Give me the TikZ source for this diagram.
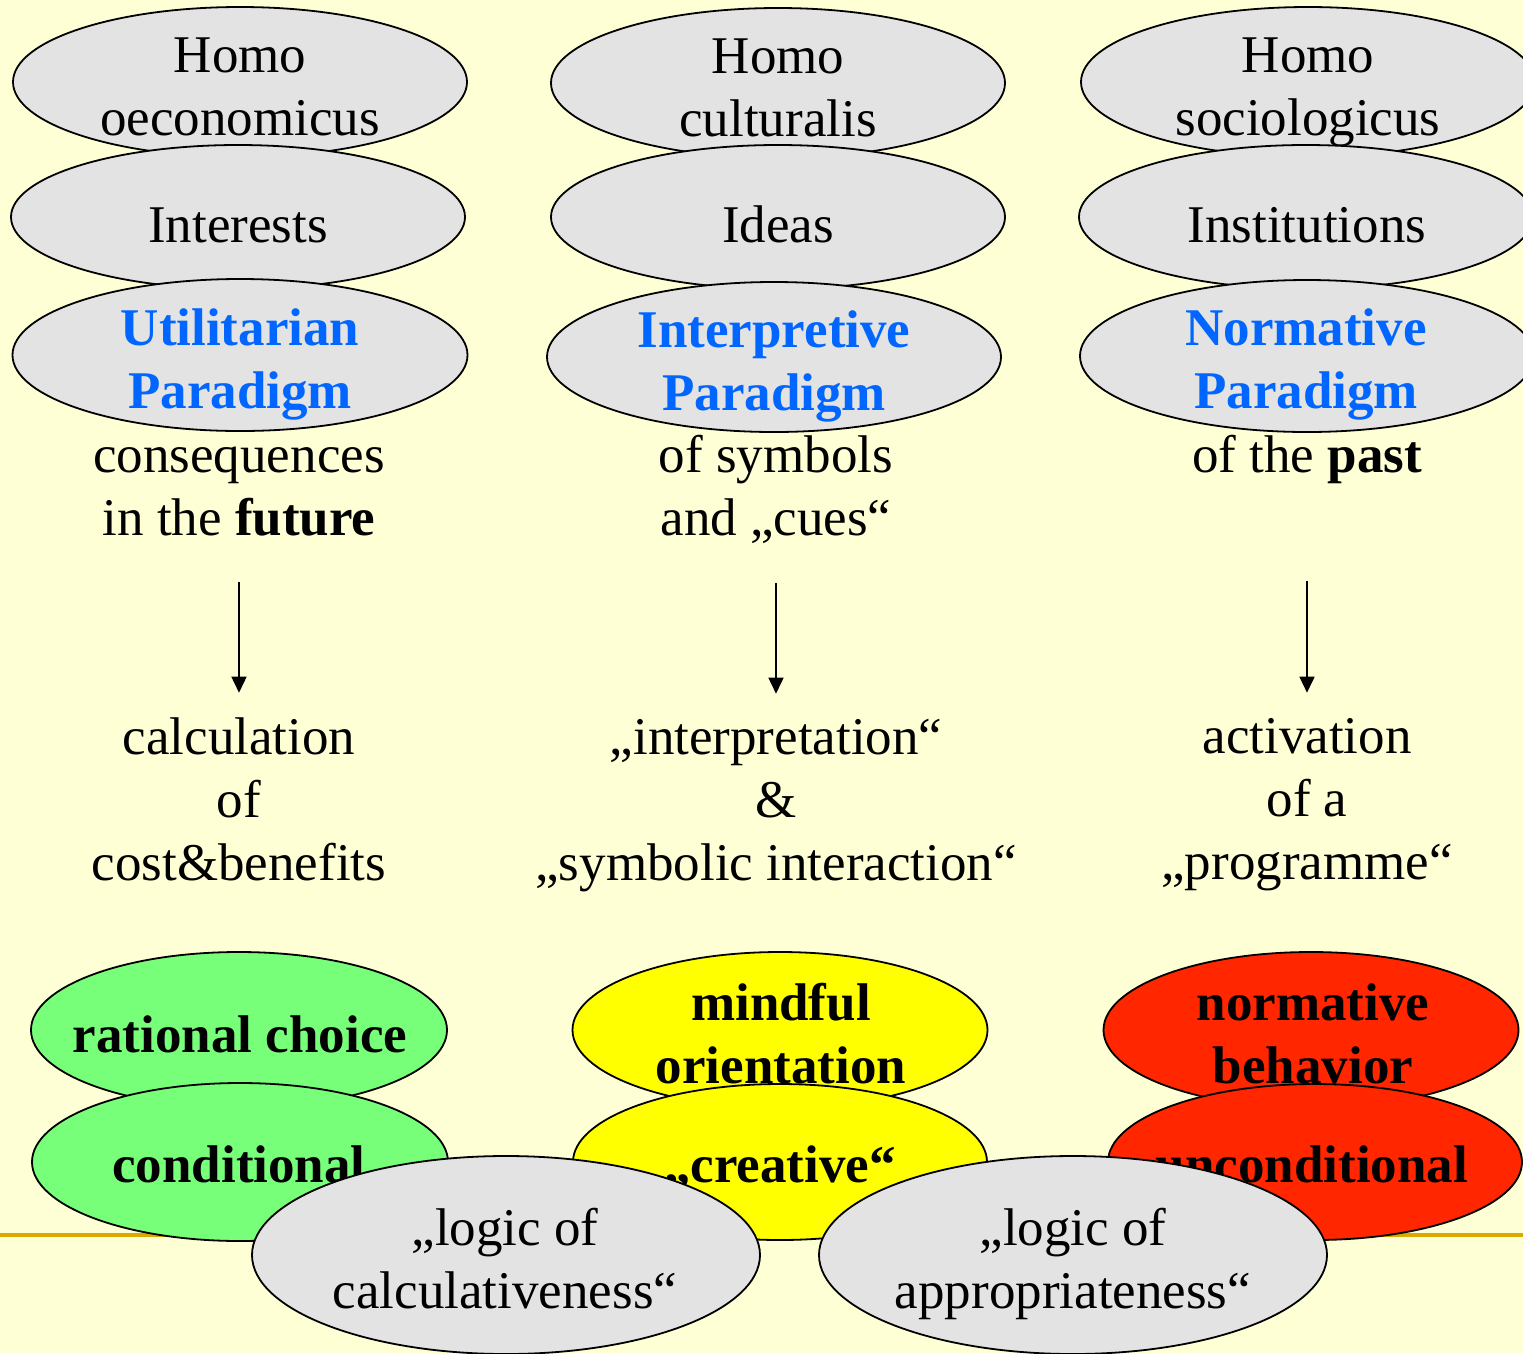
\documentclass[tikz,border=0pt]{standalone}
\usepackage{fontspec}
\setmainfont{Liberation Serif}
\usetikzlibrary{shapes.geometric,arrows.meta}
\definecolor{bgyellow}{RGB}{255,255,214}
\definecolor{ellgray}{RGB}{227,227,227}
\definecolor{pgreen}{RGB}{119,255,122}
\definecolor{pyellow}{RGB}{255,255,0}
\definecolor{pred}{RGB}{255,38,0}
\definecolor{pblue}{RGB}{0,102,255}
\definecolor{goldline}{RGB}{218,170,0}
\newcommand\mlines[1]{\begin{tabular}[t]{@{}c@{}}#1\end{tabular}}
\tikzset{
  ell/.style={ellipse, draw=black, line width=1.8pt, inner sep=0pt},
  gell/.style={ell, fill=ellgray},
  grell/.style={ell, fill=pgreen},
  yell/.style={ell, fill=pyellow},
  rell/.style={ell, fill=pred},
  txt/.style={anchor=base, inner sep=0pt, font=\fontsize{53}{63}\selectfont},
  btxt/.style={txt, font=\fontsize{53}{63}\selectfont\bfseries},
  paratxt/.style={btxt, text=pblue},
  arr/.style={line width=1.6pt, -{Triangle[width=15pt,length=16pt]}}
}
\begin{document}
\begin{tikzpicture}[x=1pt,y=-1pt]
\path[fill=bgyellow, use as bounding box] (0,0) rectangle (1523,1353);
\clip (0,0) rectangle (1523,1353);

% horizontal rule
\coordinate (rl) at (0,1235);
\coordinate (rr) at (1523,1235);
\draw[goldline, line width=3.5pt] (rl) -- (rr);

% column 1 top
\node[gell, minimum width=454pt, minimum height=150pt] (e1a) at (240,82) {};
\node[txt] (t1a) at (240,72) {\mlines{Homo\\oeconomicus}};
\node[gell, minimum width=454pt, minimum height=144pt] (e1b) at (238,217) {};
\node[txt] (t1b) at (238,242) {Interests};
\node[gell, minimum width=455pt, minimum height=152pt] (e1c) at (240,355) {};
\node[paratxt] (t1c) at (240,345) {\mlines{Utilitarian\\Paradigm}};

% column 2 top
\node[gell, minimum width=454pt, minimum height=150pt] (e2a) at (778,83) {};
\node[txt] (t2a) at (778,73) {\mlines{Homo\\culturalis}};
\node[gell, minimum width=454pt, minimum height=144pt] (e2b) at (778,217) {};
\node[txt] (t2b) at (778,242) {Ideas};
\node[gell, minimum width=454pt, minimum height=150pt] (e2c) at (774,357) {};
\node[paratxt] (t2c) at (774,347) {\mlines{Interpretive\\Paradigm}};

% column 3 top
\node[gell, minimum width=454pt, minimum height=150pt] (e3a) at (1308,82) {};
\node[txt] (t3a) at (1308,72) {\mlines{Homo\\sociologicus}};
\node[gell, minimum width=454pt, minimum height=144pt] (e3b) at (1306,217) {};
\node[txt] (t3b) at (1307,242) {Institutions};
\node[gell, minimum width=454pt, minimum height=152pt] (e3c) at (1307,356) {};
\node[paratxt] (t3c) at (1306,345) {\mlines{Normative\\Paradigm}};

% middle texts
\node[txt] (u1) at (239,472) {\mlines{consequences\\in the \textbf{future}}};
\node[txt] (u2) at (776,472) {\mlines{of symbols\\and „cues“}};
\node[txt] (u3) at (1307,472) {\mlines{of the \textbf{past}}};
\node[txt] (d1) at (239,754) {\mlines{calculation\\of\\cost\&benefits}};
\node[txt] (d2) at (776,754) {\mlines{„interpretation“\\\&\\„symbolic interaction“}};
\node[txt] (d3) at (1307,753) {\mlines{activation\\of a\\„programme“}};

\draw[arr, shorten <=28pt, shorten >=17pt] (u1.south) -- (d1.north);
\draw[arr, shorten <=29pt, shorten >=16pt] (u2.south) -- (d2.north);
\draw[arr, shorten <=90pt, shorten >=16pt] (u3.south) -- (d3.north);

% lower coloured ellipses
\node[grell, minimum width=416pt, minimum height=156pt] (g1) at (239,1030) {};
\node[btxt] (g1t) at (240,1052) {rational choice};
\node[grell, minimum width=416pt, minimum height=158pt] (g2) at (240,1162) {};
\node[btxt] (g2t) at (239,1182) {conditional};

\node[yell, minimum width=415pt, minimum height=156pt] (y1) at (780,1030) {};
\node[btxt] (y1t) at (781,1020) {\mlines{mindful\\orientation}};
\node[yell, minimum width=414pt, minimum height=156pt] (y2) at (780,1162) {};
\node[btxt] (y2t) at (780,1182) {„creative“};

\node[rell, minimum width=415pt, minimum height=156pt] (r1) at (1311,1030) {};
\node[btxt] (r1t) at (1313,1020) {\mlines{normative\\behavior}};
\node[rell, minimum width=414pt, minimum height=156pt] (r2) at (1315,1162) {};
\node[btxt] (r2t) at (1312,1182) {unconditional};

% logic ellipses
\node[gell, minimum width=508pt, minimum height=198pt] (lc) at (506,1255) {};
\node[txt] (lct) at (505,1245) {\mlines{„logic of\\calculativeness“}};
\node[gell, minimum width=508pt, minimum height=198pt] (la) at (1073,1255) {};
\node[txt] (lat) at (1073,1245) {\mlines{„logic of\\appropriateness“}};
\end{tikzpicture}
\end{document}
